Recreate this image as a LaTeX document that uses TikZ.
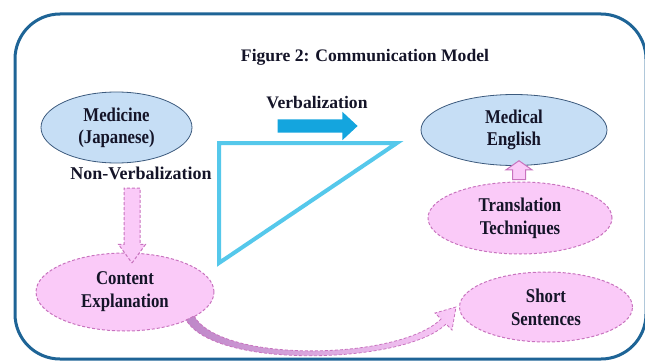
\documentclass[tikz,border=0pt]{standalone}
\usepackage{fontspec}
\setmainfont{Liberation Serif}
\newfontfamily\narrowserif[FakeStretch=0.86]{Liberation Serif}
\usetikzlibrary{shapes.geometric,shapes.arrows}

\definecolor{framecol}{RGB}{30,100,150}
\definecolor{bluefill}{RGB}{198,222,245}
\definecolor{bluedraw}{RGB}{60,90,125}
\definecolor{pinkfill}{RGB}{250,202,248}
\definecolor{pinkdraw}{RGB}{200,115,190}
\definecolor{arrowblue}{RGB}{20,165,222}
\definecolor{tricol}{RGB}{85,200,235}
\definecolor{curvedark}{RGB}{190,135,200}
\definecolor{textcol}{RGB}{20,20,40}

\begin{document}
\begin{tikzpicture}[x=1pt,y=-1pt,text=textcol,
    font=\fontsize{17.6}{22}\selectfont\bfseries]
  \useasboundingbox (0,0) rectangle (645,361);
  \draw[framecol,line width=3pt,rounded corners=45pt] (15,14) rectangle (646,359);

  \node (title) at (365,57) {Figure 2: Communication Model};

  % languages
  \begin{scope}[every node/.style={ellipse,thick,draw=bluedraw,fill=bluefill,
      align=center,inner sep=0pt,font=\fontsize{19.5}{22}\narrowserif\bfseries}]
    \node[minimum width=151pt,minimum height=71pt] (medjp) at (116.5,127.5) {Medicine\\(Japanese)};
    \node[minimum width=186pt,minimum height=71pt] (meden) at (514,130) {Medical\\English};
  \end{scope}

  % supporting steps
  \begin{scope}[every node/.style={ellipse,line width=1pt,draw=pinkdraw,fill=pinkfill,
      dash pattern=on 3pt off 2pt,align=center,inner sep=0pt,
      font=\fontsize{19.5}{23}\narrowserif\bfseries}]
    \node[minimum width=178pt,minimum height=78pt] (content) at (125,292) {Content\\Explanation};
    \node[minimum width=184pt,minimum height=72pt] (trans) at (520,218) {Translation\\Techniques};
    \node[minimum width=173pt,minimum height=70pt] (short) at (546,307) {Short\\Sentences};
  \end{scope}

  \node[font=\fontsize{18}{22}\selectfont\bfseries] (nonverb) at (141,173) {Non-Verbalization};
  \node (verb) at (317,103) {Verbalization};

  % block arrows
  \node[single arrow,rotate=-90,fill=pinkfill,draw=pinkdraw,line width=1pt,
    dash pattern=on 3pt off 2pt,minimum height=75pt,inner sep=0pt,inner ysep=7.5pt,
    single arrow head extend=5.5pt,single arrow tip angle=72]
    (nvarrow) at (132,220) {};
  \node[single arrow,fill=arrowblue,minimum height=80pt,inner sep=0pt,inner ysep=6.5pt,
    single arrow head extend=7.5pt,single arrow tip angle=86]
    (varrow) at (314,126) {};
  \node[single arrow,rotate=90,fill=pinkfill,draw=pinkdraw,line width=1pt,
    minimum height=19pt,inner sep=0pt,inner ysep=6pt,single arrow head extend=6.5pt,
    single arrow tip angle=110]
    (tarrow) at (519,172.5) {};

  \draw[tricol,line width=4pt] (219,143) -- (397,143) -- (219,263) -- cycle;

  % curved arrow to the short sentences
  \shadedraw[left color=curvedark,right color=pinkfill,draw=pinkdraw,
    line width=0.8pt,dash pattern=on 3pt off 2pt]
    (194,316) .. controls (222,364) and (400,360) .. (441,319)
    -- (435,313) -- (456,307) -- (452,330) -- (446,324)
    .. controls (406,364) and (216,370) .. (186,320) -- cycle;
\end{tikzpicture}
\end{document}
